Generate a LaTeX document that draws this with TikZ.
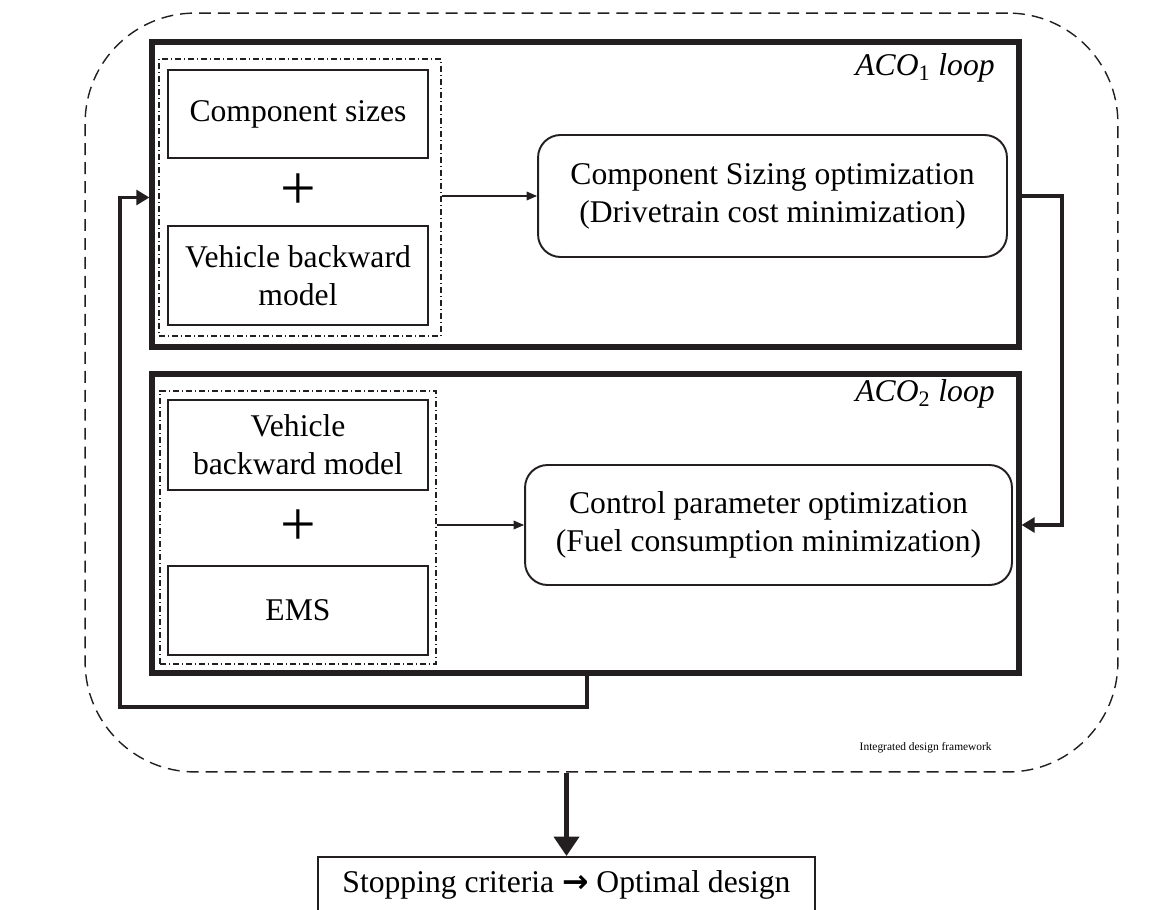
\documentclass[tikz,border=0pt]{standalone}
\usepackage{fontspec}
\setmainfont{Liberation Serif}
\newfontfamily\arrowfont{DejaVu Sans}
\usetikzlibrary{arrows.meta,calc}
\definecolor{ink}{HTML}{231F20}
\tikzset{
  outer/.style={draw=ink, line width=0.8pt, dash pattern=on 6.8pt off 4pt, rounded corners=2.2cm},
  frame/.style={draw=ink, line width=3pt},
  group/.style={draw=ink, line width=0.75pt, dash pattern=on 3.4pt off 1.7pt on 0.6pt off 1.7pt},
  item/.style={draw=ink, line width=1.1pt, align=center, minimum width=5.2cm, font=\fontsize{18}{21.6}\selectfont},
  opt/.style={draw=ink, line width=1.1pt, rounded corners=0.45cm, align=center, font=\fontsize{18}{21.6}\selectfont},
  plus/.style={font=\fontsize{36}{36}\selectfont, inner sep=0pt},
  loopname/.style={font=\fontsize{18}{20}\selectfont\itshape, anchor=east, inner sep=0pt},
  note/.style={font=\fontsize{6.5}{8}\selectfont, anchor=east, inner sep=0pt},
  feed/.style={draw=ink, line width=2.2pt, -{Triangle[length=7.5pt,width=8.5pt]}},
  down/.style={draw=ink, line width=3pt, -{Triangle[length=11pt,width=14pt]}},
  thin/.style={draw=ink, line width=0.6pt, -{Triangle[length=6pt,width=5pt]}},
}

\begin{document}
\begin{tikzpicture}[x=0.02cm, y=-0.02cm]
  \useasboundingbox (0,0) rectangle (1159,909);

  \node[outer, minimum width=20.66cm, minimum height=15.18cm] (framework) at (601.5,392.5) {};
  \node[note] (fwname) at (992,748) {Integrated design framework};

  % first loop: sizing
  \node[frame, minimum width=17.34cm, minimum height=6.10cm] (loopA) at (585.5,194.5) {};
  \node[loopname] (nameA) at (995,68) {ACO\textsubscript{\upshape 1} loop};
  \node[group, minimum width=5.64cm, minimum height=5.54cm] (groupA) at (300,197.5) {};
  \node[item, minimum height=1.76cm] (sizesA) at (298,114) {Component sizes};
  \node[plus] (plusA) at (298,192) {+};
  \node[item, minimum height=1.98cm] (modelA) at (298,275.5) {Vehicle backward\\model};
  \node[opt, minimum width=9.38cm, minimum height=2.44cm] (optA) at (772.5,196)
    {Component Sizing optimization\\(Drivetrain cost minimization)};

  % second loop: control
  \node[frame, minimum width=17.34cm, minimum height=5.98cm] (loopB) at (585.5,523.5) {};
  \node[loopname] (nameB) at (995,394) {ACO\textsubscript{\upshape 2} loop};
  \node[group, minimum width=5.52cm, minimum height=5.46cm] (groupB) at (298,527.5) {};
  \node[item, minimum height=1.8cm] (modelB) at (298,445) {Vehicle\\backward model};
  \node[plus] (plusB) at (298,528) {+};
  \node[item, minimum height=1.78cm] (ems) at (298,610.5) {EMS};
  \node[opt, minimum width=9.74cm, minimum height=2.4cm] (optB) at (768.5,525)
    {Control parameter optimization\\(Fuel consumption minimization)};

  \node[item, minimum width=9.94cm, minimum height=1.12cm] (stop) at (566.5,885)
    {Stopping criteria {\arrowfont\bfseries →} Optimal design};

  \draw[thin] (groupA.east |- optA.west) -- (optA.west);
  \draw[thin] (groupB.east |- optB.west) -- (optB.west);

  % loop hand-over on the right, feedback on the left
  \coordinate (turnR) at (1062,0);
  \draw[feed] (loopA.east |- optA) -- (turnR |- optA) -- (turnR |- optB) -- (loopB.east |- optB);
  \coordinate (fbDrop) at (587,707);
  \coordinate (fbTurn) at (120,707);
  \draw[feed] (fbDrop |- loopB.south) -- (fbDrop) -- (fbTurn) -- (fbTurn |- groupA) -- (loopA.west |- groupA);

  \draw[down] (framework.south -| stop.north) -- (stop.north);
\end{tikzpicture}
\end{document}
